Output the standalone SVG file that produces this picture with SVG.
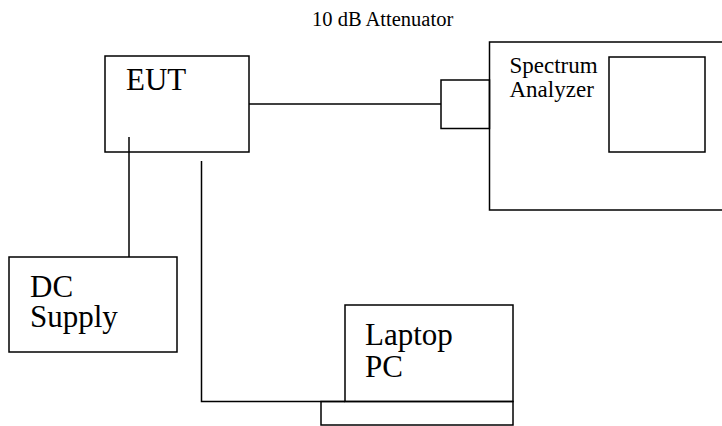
<svg xmlns="http://www.w3.org/2000/svg" width="722" height="426" viewBox="0 0 722 426">
<style>
.box{fill:none;stroke:#000;stroke-width:1.5}
.ln{fill:none;stroke:#000;stroke-width:1.5}
.big{font-family:"Liberation Serif","Times New Roman",serif;font-size:31px;fill:#000}
.mid{font-family:"Liberation Serif","Times New Roman",serif;font-size:23px;fill:#000}
.sm{font-family:"Liberation Serif","Times New Roman",serif;font-size:20.5px;fill:#000}
</style>
<rect width="722" height="426" fill="#fff"/>
<g id="connectors">
<line class="ln" x1="249" y1="104" x2="441" y2="104"/>
<line class="ln" x1="129" y1="137" x2="129" y2="257"/>
<polyline class="ln" points="201.5,161 201.5,401.5 345,401.5"/>
</g>
<g id="eut">
<rect class="box" x="105" y="56" width="144" height="96"/>
<text class="big" x="126" y="90">EUT</text>
</g>
<g id="attenuator">
<rect class="box" x="441" y="80" width="48.5" height="48.5"/>
<text class="sm" x="312" y="26">10 dB Attenuator</text>
</g>
<g id="spectrum-analyzer">
<rect class="box" x="489.5" y="42" width="240" height="168"/>
<rect class="box" x="609" y="57" width="96" height="95"/>
<text class="mid" x="509.5" y="73">Spectrum</text>
<text class="mid" x="509.5" y="96.5">Analyzer</text>
</g>
<g id="dc-supply">
<rect class="box" x="9" y="257" width="168" height="95"/>
<text class="big" x="30" y="296.5">DC</text>
<text class="big" x="30" y="327">Supply</text>
</g>
<g id="laptop-pc">
<rect class="box" x="345" y="305" width="168" height="96.5"/>
<rect class="box" x="321" y="401.5" width="192" height="23.5"/>
<text class="big" x="365" y="345">Laptop</text>
<text class="big" x="365" y="376.5">PC</text>
</g>
</svg>
